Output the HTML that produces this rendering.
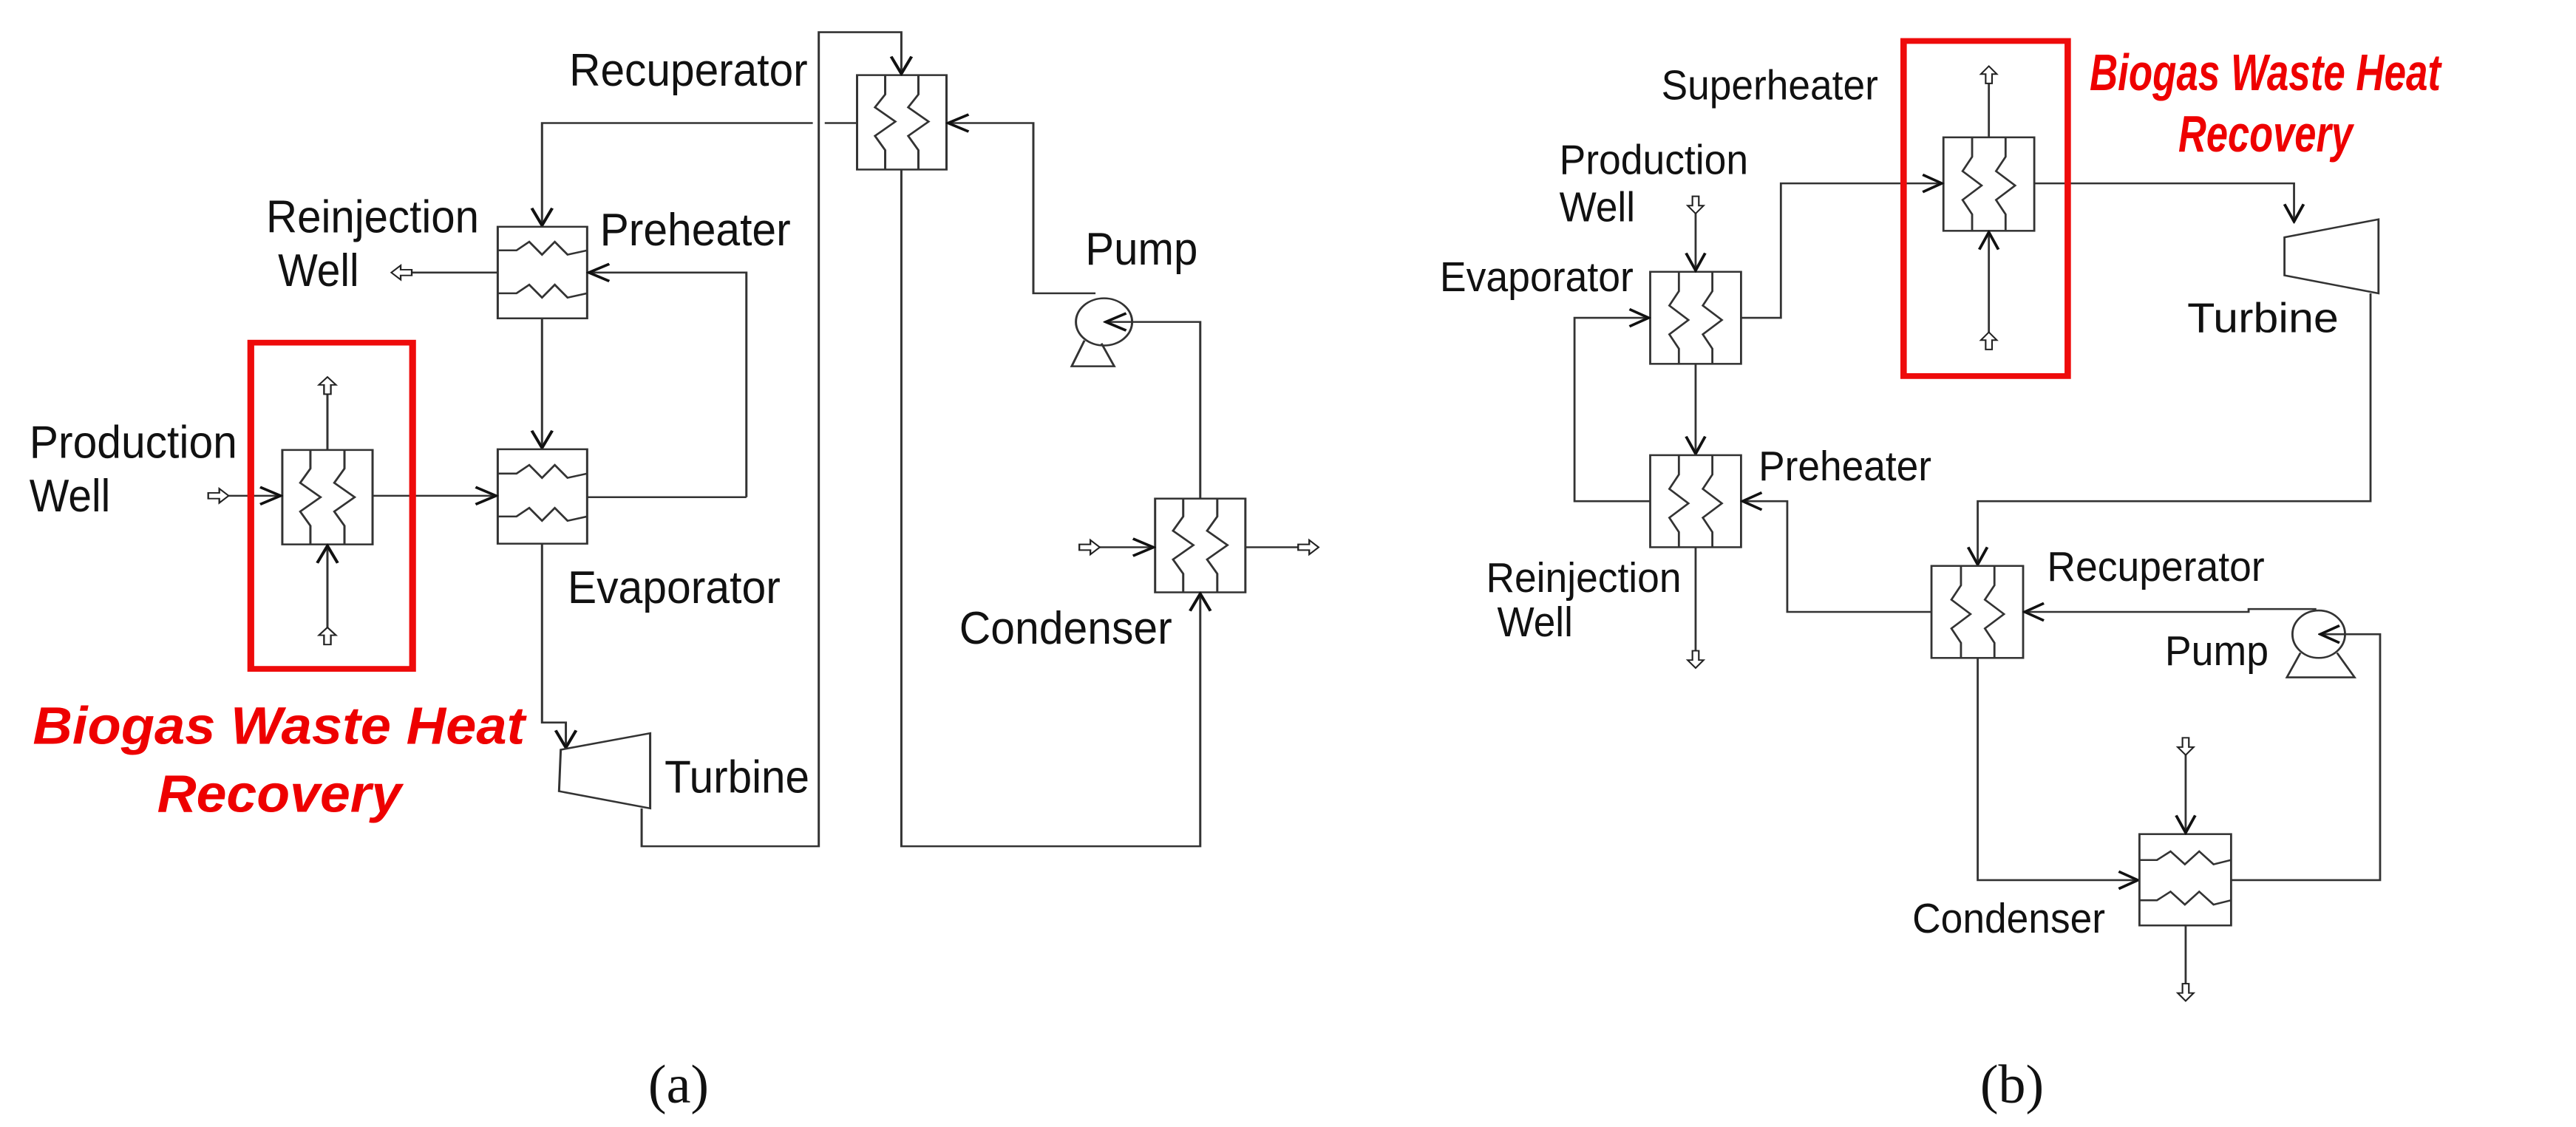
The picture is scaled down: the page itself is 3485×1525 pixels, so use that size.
<!DOCTYPE html>
<html><head><meta charset="utf-8"><style>
html,body{margin:0;padding:0;background:#fff;}
svg{display:block;}
text{font-family:"Liberation Sans",Arial,sans-serif;fill:#111;}
.r{fill:#ee0000;font-weight:bold;font-style:italic;}
.s{font-family:"Liberation Serif",serif;}
</style></head><body>
<svg width="3485" height="1525" viewBox="0 0 3485 1525" xmlns="http://www.w3.org/2000/svg">
<defs>
<marker id="a" markerUnits="userSpaceOnUse" markerWidth="30" markerHeight="30" refX="18" refY="10" orient="auto" viewBox="0 0 20 20">
<path d="M2,2 L18,10 L2,18" fill="none" stroke="#111" stroke-width="2.4"/>
</marker>
<polygon id="oa" points="0,0 10,11 4,11 4,24 -4,24 -4,11 -10,11" fill="#fff" stroke="#222" stroke-width="2"/>
</defs>

<!-- ===== Panel (a) ===== -->
<g transform="matrix(1.152,0,0,0.968,-4,0)">
<g fill="none" stroke="#333" stroke-width="2.6">
<rect x="1010" y="105" width="105" height="132"/>
<path d="M1043,105 V132 L1031,150 L1055,170 L1031,190 L1043,210 V237"/>
<path d="M1082,105 V132 L1070,150 L1094,170 L1070,190 L1082,210 V237"/>
<path d="M757,1130 V1183 H965 V45 H1062 V103" marker-end="url(#a)"/>
<path d="M1010,172 H972"/>
<path d="M958,172 H640 V315" marker-end="url(#a)"/>
<path d="M1290,410 H1217 V172 H1117" marker-end="url(#a)"/>
<circle cx="1300" cy="450" r="33" fill="#fff"/>
<path d="M1277,476 L1262,512 H1312 L1297,480"/>
<path d="M1413,697 V450 H1302" marker-end="url(#a)"/>
<rect x="1360" y="697" width="106" height="131"/>
<path d="M1393,697 V722 L1381,742 L1405,762 L1381,782 L1393,802 V828"/>
<path d="M1433,697 V722 L1421,742 L1445,762 L1421,782 L1433,802 V828"/>
<path d="M1295,765 H1358" marker-end="url(#a)"/>
<path d="M1466,765 H1528"/>
<path d="M1062,237 V1183 H1413 V830" marker-end="url(#a)"/>
<rect x="588" y="317" width="105" height="128"/>
<path d="M588,350 H610 L625,338 L640,356 L655,338 L670,356 L693,350"/>
<path d="M588,410 H610 L625,398 L640,416 L655,398 L670,416 L693,410"/>
<path d="M588,381 H487"/>
<path d="M880,695 V381 H695" marker-end="url(#a)"/>
<path d="M640,445 V626" marker-end="url(#a)"/>
<rect x="588" y="628" width="105" height="132"/>
<path d="M588,662 H610 L625,650 L640,668 L655,650 L670,668 L693,662"/>
<path d="M588,722 H610 L625,710 L640,728 L655,710 L670,728 L693,722"/>
<path d="M693,695 H880"/>
<path d="M441,693 H586" marker-end="url(#a)"/>
<path d="M640,760 V1010 H668 V1045" marker-end="url(#a)"/>
<polygon points="662,1048 767,1025 767,1130 660,1106" fill="#fff"/>
<rect x="335" y="629" width="106" height="132"/>
<path d="M368,629 V655 L356,675 L380,695 L356,715 L368,735 V761"/>
<path d="M408,629 V655 L396,675 L420,695 L396,715 L408,735 V761"/>
<path d="M388,629 V551"/>
<path d="M388,877 V763" marker-end="url(#a)"/>
<path d="M272,693 H333" marker-end="url(#a)"/>
</g>
<rect x="298" y="479" width="190" height="456" fill="none" stroke="#ee0b0b" stroke-width="8"/>
<use href="#oa" transform="translate(463,381) rotate(-90)"/>
<use href="#oa" transform="translate(272,693) rotate(90)"/>
<use href="#oa" transform="translate(388,527)"/>
<use href="#oa" transform="translate(388,877)"/>
<use href="#oa" transform="translate(1295,765) rotate(90)"/>
<use href="#oa" transform="translate(1552,765) rotate(90)"/>
<g font-size="64">
<text x="672" y="120" textLength="280" lengthAdjust="spacingAndGlyphs">Recuperator</text>
<text x="316" y="325" textLength="250" lengthAdjust="spacingAndGlyphs">Reinjection</text>
<text x="330" y="400" textLength="95" lengthAdjust="spacingAndGlyphs">Well</text>
<text x="708" y="343" textLength="224" lengthAdjust="spacingAndGlyphs">Preheater</text>
<text x="1278" y="370" textLength="132" lengthAdjust="spacingAndGlyphs">Pump</text>
<text x="38" y="640" textLength="244" lengthAdjust="spacingAndGlyphs">Production</text>
<text x="38" y="715" textLength="95" lengthAdjust="spacingAndGlyphs">Well</text>
<text x="670" y="843" textLength="250" lengthAdjust="spacingAndGlyphs">Evaporator</text>
<text x="1130" y="900" textLength="250" lengthAdjust="spacingAndGlyphs">Condenser</text>
<text x="784" y="1108" textLength="170" lengthAdjust="spacingAndGlyphs">Turbine</text>
</g>
<text class="r" x="42" y="1040" font-size="74" textLength="578" lengthAdjust="spacingAndGlyphs">Biogas Waste Heat</text>
<text class="r" x="188" y="1135" font-size="74" textLength="287" lengthAdjust="spacingAndGlyphs">Recovery</text>
</g>

<!-- ===== Panel (b) ===== -->
<g transform="matrix(1.078,0,0,0.973,-143.4,0)">
<g fill="none" stroke="#333" stroke-width="2.6">
<rect x="2572" y="191" width="114" height="130"/>
<path d="M2608,191 V218 L2596,238 L2620,258 L2596,278 L2608,298 V321"/>
<path d="M2650,191 V218 L2638,238 L2662,258 L2638,278 L2650,298 V321"/>
<path d="M2629,191 V116"/>
<path d="M2629,462 V323" marker-end="url(#a)"/>
<rect x="2204" y="378" width="114" height="128"/>
<path d="M2240,378 V405 L2228,425 L2252,445 L2228,465 L2240,485 V506"/>
<path d="M2282,378 V405 L2270,425 L2294,445 L2270,465 L2282,485 V506"/>
<path d="M2261,297 V376" marker-end="url(#a)"/>
<path d="M2318,442 H2368 V255 H2570" marker-end="url(#a)"/>
<path d="M2204,697 H2109 V442 H2202" marker-end="url(#a)"/>
<path d="M2261,506 V631" marker-end="url(#a)"/>
<rect x="2204" y="633" width="114" height="128"/>
<path d="M2240,633 V660 L2228,680 L2252,700 L2228,720 L2240,740 V761"/>
<path d="M2282,633 V660 L2270,680 L2294,700 L2270,720 L2282,740 V761"/>
<path d="M2557,851 H2376 V697 H2320" marker-end="url(#a)"/>
<path d="M2261,761 V905"/>
<path d="M2686,255 H3012 V308" marker-end="url(#a)"/>
<polygon points="3000,330 3118,305 3118,408 3000,383" fill="#fff"/>
<path d="M3108,408 V697 H2615 V785" marker-end="url(#a)"/>
<rect x="2557" y="787" width="115" height="128"/>
<path d="M2594,787 V814 L2582,834 L2606,854 L2582,874 L2594,894 V915"/>
<path d="M2636,787 V814 L2624,834 L2648,854 L2624,874 L2636,894 V915"/>
<path d="M3040,847 H2955 V851 H2674" marker-end="url(#a)"/>
<circle cx="3043" cy="882" r="33" fill="#fff"/>
<path d="M3020,908 L3003,942 H3088 L3066,908"/>
<path d="M2933,1224 H3120 V882 H3045" marker-end="url(#a)"/>
<path d="M2615,915 V1224 H2816" marker-end="url(#a)"/>
<rect x="2818" y="1160" width="115" height="127"/>
<path d="M2818,1196 H2840 L2857,1184 L2875,1202 L2893,1184 L2911,1202 L2933,1196"/>
<path d="M2818,1252 H2840 L2857,1240 L2875,1258 L2893,1240 L2911,1258 L2933,1252"/>
<path d="M2876,1050 V1158" marker-end="url(#a)"/>
<path d="M2876,1287 V1368"/>
</g>
<rect x="2522" y="57" width="206" height="466" fill="none" stroke="#ee0b0b" stroke-width="8"/>
<use href="#oa" transform="translate(2629,92)"/>
<use href="#oa" transform="translate(2629,462)"/>
<use href="#oa" transform="translate(2261,297) rotate(180)"/>
<use href="#oa" transform="translate(2261,929) rotate(180)"/>
<use href="#oa" transform="translate(2876,1050) rotate(180)"/>
<use href="#oa" transform="translate(2876,1392) rotate(180)"/>
<g font-size="58">
<text x="2218" y="138" textLength="272" lengthAdjust="spacingAndGlyphs">Superheater</text>
<text x="2090" y="242" textLength="237" lengthAdjust="spacingAndGlyphs">Production</text>
<text x="2090" y="308" textLength="95" lengthAdjust="spacingAndGlyphs">Well</text>
<text x="1940" y="405" textLength="243" lengthAdjust="spacingAndGlyphs">Evaporator</text>
<text x="2878" y="462" textLength="190" lengthAdjust="spacingAndGlyphs">Turbine</text>
<text x="2340" y="668" textLength="217" lengthAdjust="spacingAndGlyphs">Preheater</text>
<text x="2702" y="808" textLength="273" lengthAdjust="spacingAndGlyphs">Recuperator</text>
<text x="1998" y="823" textLength="245" lengthAdjust="spacingAndGlyphs">Reinjection</text>
<text x="2012" y="885" textLength="95" lengthAdjust="spacingAndGlyphs">Well</text>
<text x="2850" y="925" textLength="130" lengthAdjust="spacingAndGlyphs">Pump</text>
<text x="2533" y="1297" textLength="242" lengthAdjust="spacingAndGlyphs">Condenser</text>
</g>
</g>
<text class="r" x="2827" y="122" font-size="70" textLength="475" lengthAdjust="spacingAndGlyphs">Biogas Waste Heat</text>
<text class="r" x="2947" y="205" font-size="70" textLength="236" lengthAdjust="spacingAndGlyphs">Recovery</text>

<text class="s" x="918" y="1492" font-size="74" text-anchor="middle">(a)</text>
<text class="s" x="2722" y="1492" font-size="74" text-anchor="middle">(b)</text>
</svg>
</body></html>
